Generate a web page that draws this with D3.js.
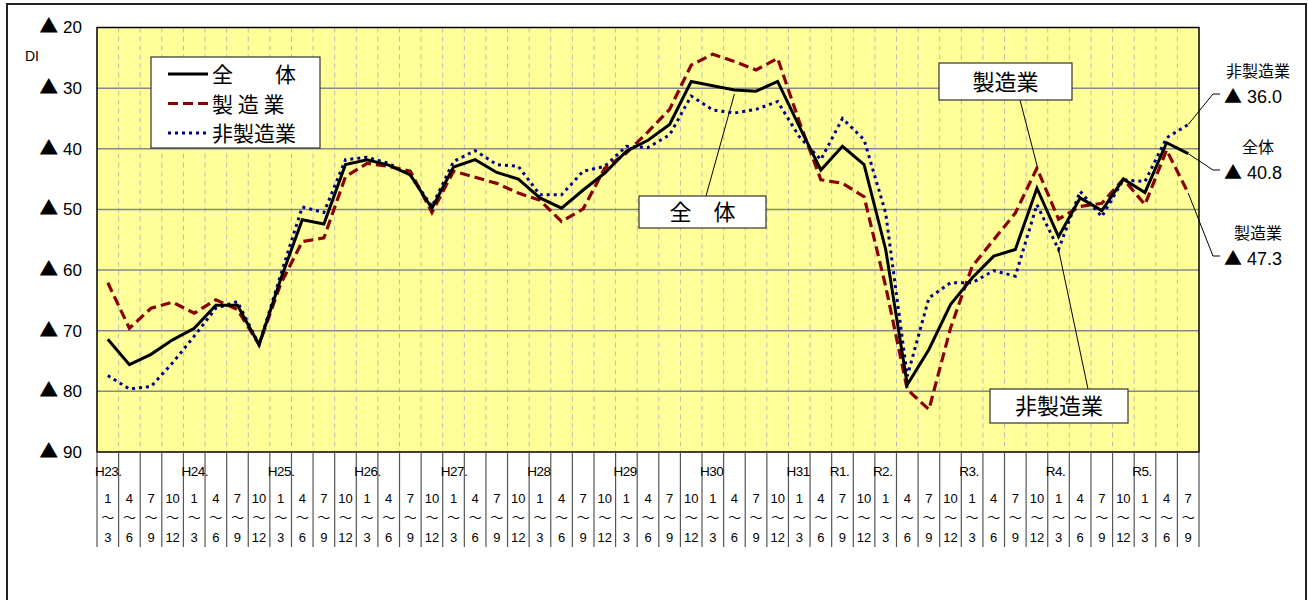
<!DOCTYPE html>
<html>
<head>
<meta charset="utf-8">
<script src="https://cdn.jsdelivr.net/npm/d3@7"></script>
<style>
  body { margin: 0; background: #fff; }
  svg { display: block; }
  text { font-family: "Liberation Sans", Arial, sans-serif; fill: #000; }
  .jp { font-family: "Noto Sans CJK JP", sans-serif; }
</style>
</head>
<body>
<script>
'use strict';

// quarters H23 1~3 .. R5 7~9
var monthFrom = ['1','4','7','10','1','4','7','10','1','4','7','10','1','4','7','10',
  '1','4','7','10','1','4','7','10','1','4','7','10','1','4','7','10',
  '1','4','7','10','1','4','7','10','1','4','7','10','1','4','7','10','1','4','7'];
var monthTo = ['3','6','9','12','3','6','9','12','3','6','9','12','3','6','9','12',
  '3','6','9','12','3','6','9','12','3','6','9','12','3','6','9','12',
  '3','6','9','12','3','6','9','12','3','6','9','12','3','6','9','12','3','6','9'];
var yearLabels = ['H23.','H24.','H25.','H26.','H27.','H28','H29','H30','H31','R1.','R2.','R3.','R4.','R5.'];
var yearIndex = [0, 4, 8, 12, 16, 20, 24, 28, 32, 34, 36, 40, 44, 48];

// DI values (shown as ▲, i.e. negative)
var total = [71.4, 75.6, 73.9, 71.5, 69.6, 65.8, 65.8, 72.3, 61.5, 51.7, 52.4, 42.6, 41.8,
  42.7, 44.3, 49.8, 43.0, 41.8, 43.9, 45.0, 48.1, 49.8, 46.8, 44.0, 40.4, 38.6, 36.0,
  28.9, 29.6, 30.3, 30.5, 28.9, 36.3, 43.5, 39.6, 42.6, 56.6, 78.9, 73.1, 65.7, 61.3,
  57.7, 56.6, 46.5, 54.5, 48.1, 50.2, 45.0, 47.2, 39.0, 40.8];
var manufacturing = [62.1, 69.6, 66.3, 65.3, 67.1, 64.9, 66.5, 72.3, 62.3, 55.3, 54.7, 44.6, 42.4,
  42.9, 43.7, 50.5, 43.7, 44.7, 45.7, 47.3, 48.5, 52.0, 49.9, 43.2, 40.7, 37.2, 33.5,
  26.2, 24.4, 25.6, 27.0, 25.1, 35.5, 45.1, 45.7, 47.9, 62.7, 79.7, 83.0, 69.6, 59.4,
  55.0, 50.6, 43.2, 51.6, 49.5, 49.0, 45.0, 49.2, 40.2, 47.3];
var nonManufacturing = [77.4, 79.6, 79.2, 75.3, 70.9, 66.3, 65.2, 72.3, 60.8, 49.6, 50.5, 41.8, 41.4,
  42.4, 44.3, 49.5, 42.1, 40.3, 42.6, 42.9, 47.6, 47.6, 43.7, 42.9, 39.6, 39.8, 37.7,
  31.3, 33.6, 34.1, 33.5, 32.2, 38.0, 41.8, 35.0, 38.5, 50.6, 77.5, 64.6, 62.1, 62.1,
  60.1, 61.0, 49.2, 56.6, 47.0, 51.2, 45.1, 45.4, 38.2, 36.0];

var yTicks = [20, 30, 40, 50, 60, 70, 80, 90];

var series = [
  {name: '全　　体', values: total, color: '#000', width: 3, dash: null},
  {name: '製 造 業', values: manufacturing, color: '#8b0000', width: 3.2, dash: '10,5'},
  {name: '非製造業', values: nonManufacturing, color: '#00008b', width: 3, dash: '3,4'}
];

var W = 1308, H = 600;
var plotLeft = 97, plotRight = 1199, plotTop = 27.5, plotBottom = 452;

var svg = d3.select('body').append('svg').attr('width', W).attr('height', H);

// outer frame
svg.append('rect')
  .attr('x', 7).attr('y', 4).attr('width', 1299).attr('height', 640)
  .attr('fill', '#fff').attr('stroke', '#222').attr('stroke-width', 2);

var x = d3.scaleBand().domain(d3.range(total.length)).range([plotLeft, plotRight]);
var y = d3.scaleLinear().domain([20, 90]).range([plotTop, plotBottom]);
var bw = x.bandwidth();
function cx (i) { return x(i) + bw / 2; }

svg.append('rect')
  .attr('x', plotLeft).attr('y', plotTop)
  .attr('width', plotRight - plotLeft).attr('height', plotBottom - plotTop)
  .attr('fill', '#ffff99');

// vertical dashed grid at column boundaries
svg.append('g').selectAll('line')
  .data(d3.range(1, total.length))
  .join('line')
  .attr('x1', function (i) { return x(i); })
  .attr('x2', function (i) { return x(i); })
  .attr('y1', plotTop).attr('y2', plotBottom)
  .attr('stroke', '#bdbdae').attr('stroke-width', 1).attr('stroke-dasharray', '5,4');

// horizontal grid
svg.append('g').selectAll('line')
  .data(yTicks.slice(1, -1))
  .join('line')
  .attr('x1', plotLeft).attr('x2', plotRight)
  .attr('y1', function (d) { return y(d); })
  .attr('y2', function (d) { return y(d); })
  .attr('stroke', '#888').attr('stroke-width', 1.5);

svg.append('rect')
  .attr('x', plotLeft).attr('y', plotTop)
  .attr('width', plotRight - plotLeft).attr('height', plotBottom - plotTop)
  .attr('fill', 'none').attr('stroke', '#000').attr('stroke-width', 1.5);

// y axis labels: triangle + number
var yAxis = svg.append('g')
  .attr('transform', 'translate(' + plotLeft + ',0)')
  .call(d3.axisLeft(y).tickValues(yTicks).tickSize(0).tickPadding(15).tickFormat(''));
yAxis.select('.domain').remove();
yAxis.selectAll('.tick text').each(function (d) {
  var t = d3.select(this)
    .style('font-family', '"Liberation Sans", Arial, sans-serif')
    .style('font-size', '17px').attr('fill', '#000');
  t.append('tspan').attr('class', 'jp').style('font-size', '19px').text('▲');
  t.append('tspan').text(' ' + d);
});

svg.append('text').attr('x', 25).attr('y', 61).style('font-size', '14px').text('DI');

// x category area
var cat = svg.append('g');
cat.selectAll('line')
  .data(d3.range(total.length + 1))
  .join('line')
  .attr('x1', function (i) { return i < total.length ? x(i) : plotRight; })
  .attr('x2', function (i) { return i < total.length ? x(i) : plotRight; })
  .attr('y1', plotBottom).attr('y2', 547)
  .attr('stroke', '#555').attr('stroke-width', 1.2);

cat.selectAll('text.from')
  .data(monthFrom)
  .join('text')
  .attr('class', 'from')
  .attr('x', function (d, i) { return cx(i); })
  .attr('y', 503)
  .attr('text-anchor', 'middle')
  .style('font-size', '13px')
  .text(function (d) { return d; });

cat.selectAll('text.wave')
  .data(monthFrom)
  .join('text')
  .attr('class', 'wave jp')
  .attr('x', function (d, i) { return cx(i); })
  .attr('y', 522)
  .attr('text-anchor', 'middle')
  .style('font-size', '13px')
  .text('〜');

cat.selectAll('text.to')
  .data(monthTo)
  .join('text')
  .attr('class', 'to')
  .attr('x', function (d, i) { return cx(i); })
  .attr('y', 542)
  .attr('text-anchor', 'middle')
  .style('font-size', '13px')
  .text(function (d) { return d; });

cat.selectAll('text.year')
  .data(yearLabels)
  .join('text')
  .attr('class', 'year')
  .attr('x', function (d, i) { return x(yearIndex[i]) - 2; })
  .attr('y', 476)
  .style('font-size', '13.5px')
  .style('letter-spacing', '-0.5px')
  .text(function (d) { return d; });

// lines
var line = d3.line()
  .x(function (d, i) { return cx(i); })
  .y(function (d) { return y(d); });

svg.append('g').selectAll('path')
  .data(series.slice().reverse())
  .join('path')
  .attr('d', function (s) { return line(s.values); })
  .attr('fill', 'none')
  .attr('stroke', function (s) { return s.color; })
  .attr('stroke-width', function (s) { return s.width; })
  .attr('stroke-dasharray', function (s) { return s.dash; })
  .attr('stroke-linejoin', 'miter');

// legend
var legend = svg.append('g');
legend.append('rect')
  .attr('x', 151).attr('y', 57).attr('width', 169).attr('height', 91)
  .attr('fill', '#fff').attr('stroke', '#333').attr('stroke-width', 1.2);
series.forEach(function (s, k) {
  var ly = 74 + k * 29.5;
  legend.append('line')
    .attr('x1', 168).attr('x2', 208).attr('y1', ly).attr('y2', ly)
    .attr('stroke', s.color).attr('stroke-width', s.width)
    .attr('stroke-dasharray', s.dash);
  legend.append('text')
    .attr('class', 'jp')
    .attr('x', 212).attr('y', ly + 8)
    .style('font-size', '21px')
    .text(s.name);
});

// callouts inside the plot
function callout (label, bx, by, bwid, bh, fromX, fromY, toX, toY) {
  svg.append('line')
    .attr('x1', fromX).attr('y1', fromY).attr('x2', toX).attr('y2', toY)
    .attr('stroke', '#000').attr('stroke-width', 1);
  svg.append('rect')
    .attr('x', bx).attr('y', by).attr('width', bwid).attr('height', bh)
    .attr('fill', '#fff').attr('stroke', '#333').attr('stroke-width', 1.2);
  svg.append('text')
    .attr('class', 'jp')
    .attr('x', bx + bwid / 2).attr('y', by + bh / 2 + 8)
    .attr('text-anchor', 'middle')
    .style('font-size', '22px')
    .text(label);
}

callout('全　体', 639, 196, 127, 32, 706, 196, cx(29), y(total[29]) + 4);
callout('製造業', 939, 63, 133, 37, 1020, 100, cx(43), y(manufacturing[43]) - 3);
callout('非製造業', 990, 389, 138, 34, 1088, 389, cx(44), y(nonManufacturing[44]));

// end labels on the right
var last = total.length - 1;
var endLabels = [
  {name: '非製造業', values: nonManufacturing, ly: 94},
  {name: '全体', values: total, ly: 170},
  {name: '製造業', values: manufacturing, ly: 256}
];
endLabels.forEach(function (e) {
  var v = e.values[last];
  svg.append('polyline')
    .attr('points', [[cx(last), y(v)], [1213, e.ly], [1220, e.ly]].join(' '))
    .attr('fill', 'none').attr('stroke', '#000').attr('stroke-width', 1);
  svg.append('text')
    .attr('class', 'jp')
    .attr('x', 1258).attr('y', e.ly - 17)
    .attr('text-anchor', 'middle')
    .style('font-size', '16px')
    .text(e.name);
  var t = svg.append('text')
    .attr('x', 1224).attr('y', e.ly + 9)
    .style('font-size', '18px');
  t.append('tspan').attr('class', 'jp').style('font-size', '18px').text('▲');
  t.append('tspan').text(' ' + v.toFixed(1));
});
</script>
</body>
</html>
